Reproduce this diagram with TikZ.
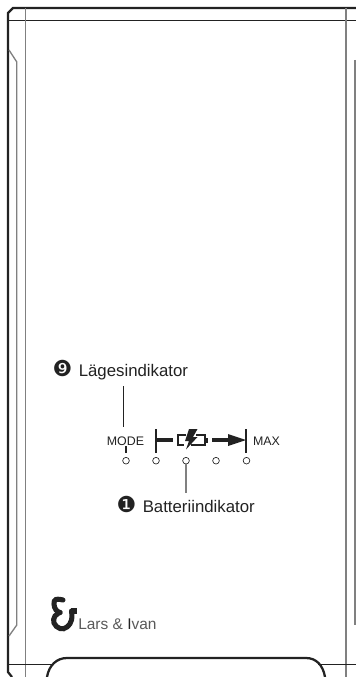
\documentclass[tikz,border=0pt]{standalone}
\usepackage{fontspec}
\setmainfont{Liberation Sans}
\newfontfamily\dingfont{DejaVu Sans}
\usetikzlibrary{positioning}
\usetikzlibrary{arrows.meta}
\definecolor{inkdark}{HTML}{222222}
\definecolor{inkgray}{HTML}{808080}

\begin{document}
\begin{tikzpicture}[
  x=0.75pt, y=-0.75pt,
  font=\fontsize{12.6}{14}\selectfont,
  shell/.style={inkdark, line width=1.7pt},
  seam/.style={inkgray, line width=1pt},
  thinline/.style={inkdark, line width=0.7pt},
  led/.style={circle, draw=inkdark, line width=0.5pt, minimum size=5pt, inner sep=0pt},
  scale label/.style={font=\fontsize{9.3}{11}\selectfont, text=inkdark, inner sep=0pt, anchor=base},
  callout/.style={text=inkdark, inner sep=0pt, anchor=base west},
  number/.style={font=\dingfont\fontsize{16.5}{18}\selectfont, text=inkdark, inner sep=0pt, anchor=base},
  bar/.style={inkdark, line width=2.1pt},
  stem/.style={inkdark, line width=2.6pt},
  leader/.style={inkdark, line width=0.6pt}
]
\useasboundingbox (0,0) rectangle (356,677);

% Housing outline
\draw[shell] (356,8) -- (13,8) -- (8,13) -- (8,672) -- (12,677);
\draw[thinline] (8,20.5) -- (356,20.5);
\draw[seam] (25.7,8) -- (25.7,677);
\draw[seam] (346,8) -- (346,677);
\draw[seam] (9,50) -- (16.8,62) -- (16.8,625) -- (9,636);
\draw[seam] (355,60) -- (355,625);
\draw[thinline] (8,664) -- (52,664);
\draw[thinline] (318,664) -- (356,664);

% Cut-out at the bottom
\draw[shell] (47,677) .. controls (49,665) and (57,658) .. (67,658)
  -- (306,658) .. controls (316,658) and (323,665) .. (325,677);

% Indicators
\foreach \name/\xpos in {mode/126,low/156,batt/186,mid/216,high/246.5}
  \node[led] (\name) at (\xpos,460.7) {};

\node[scale label] (modetext) at (125.5,445) {MODE};
\node[scale label] (maxtext) at (266.5,445) {MAX};

% Charge scale
\draw[bar] (126,446) -- (126,453);
\draw[bar] (156,429) -- (156,453);
\draw[stem] (156,440) -- (173,440);
\draw[inkdark, line width=1.5pt] (186,434.5) -- (178,434.5) -- (178,445) -- (184,445)
  (196,434.5) -- (205,434.5) -- (205,445) -- (191,445);
\fill[inkdark] (205,437.5) rectangle (207.5,442.5);
\fill[inkdark] (189,429) -- (197.5,429) -- (193,437) -- (197.5,437) -- (186,449.5)
  -- (189,441) -- (185,441) -- cycle;
\draw[stem] (212,440) -- (230,440);
\fill[inkdark] (228,434) -- (246,440) -- (228,446) -- cycle;
\draw[bar] (246,429) -- (246,453);

% Callouts
\node[callout] (modecall) at (78.5,376) {Lägesindikator};
\node[number] (modenum) at (62.5,376) {❾};
\node[callout] (battcall) at (142.5,512) {Batteriindikator};
\node[number] (battnum) at (126.5,512) {❶};
\coordinate (modeend) at (123.5,427);
\coordinate (modestart) at (123.5,386);
\coordinate (battend) at (186,493);
\draw[leader] (modestart) -- (modeend);
\draw[leader, inkgray, line width=0.8pt] (batt) -- (battend);

% Logo
\draw[inkdark, line width=3.8pt, line cap=round] plot [smooth, tension=0.75] coordinates {
  (63,600) (56,599.5) (54,604) (56,610) (60,612.5) };
\draw[inkdark, line width=3.8pt, line cap=round] plot [smooth, tension=0.75] coordinates {
  (60,612.5) (55,616) (54,623) (60,628.5) (67,627) (71.5,620) (71.5,611) };
\draw[inkdark, line width=3.8pt] (71,611) -- (77,611);
\node[anchor=base west, inner sep=0pt, text=black!65, font=\fontsize{11.6}{14}\selectfont] (brand) at (78,629)
  {Lars \& {\color{inkdark}I}van};
\end{tikzpicture}
\end{document}
